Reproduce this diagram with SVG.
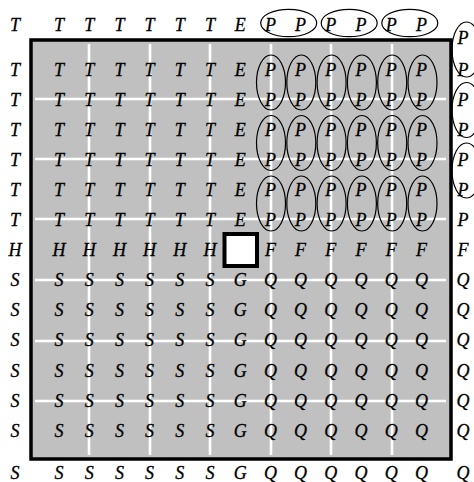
<svg xmlns="http://www.w3.org/2000/svg" width="474" height="482" viewBox="0 0 474 482">
<style>
text{font-family:"Liberation Serif","Times New Roman",serif;font-style:italic;font-size:18px;text-anchor:middle;fill:#000;stroke:#000;stroke-width:0.3}
.grid{stroke:#fff;stroke-width:2.6;fill:none}
.ov{fill:none;stroke:#000;stroke-width:1.2}
</style>
<rect x="31" y="40" width="420" height="419" fill="#c0c0c0" stroke="#000" stroke-width="3.5"/>
<g id="grid" class="grid">
<path d="M35 99H446M35 159H446M35 219H446M35 280H446M35 341H446M35 401H446"/>
<path d="M89 44V455M150 44V455M210 44V455M271 44V455M331 44V455M392 44V455"/>
</g>
<rect id="blank" x="224.5" y="234" width="32.5" height="32" fill="#fff" stroke="#000" stroke-width="4"/>
<g id="top-row">
<text x="15" y="31">T</text><text x="59" y="31">T</text><text x="89.2" y="31">T</text><text x="119.4" y="31">T</text><text x="149.6" y="31">T</text><text x="179.8" y="31">T</text><text x="210" y="31">T</text><text x="240.2" y="31">E</text><text x="270.4" y="31">P</text><text x="300.6" y="31">P</text><text x="330.8" y="31">P</text><text x="361" y="31">P</text><text x="391.2" y="31">P</text><text x="421.4" y="31">P</text>
</g>
<g id="rows-T">
<text x="15" y="75.5">T</text><text x="59" y="75.5">T</text><text x="89.2" y="75.5">T</text><text x="119.4" y="75.5">T</text><text x="149.6" y="75.5">T</text><text x="179.8" y="75.5">T</text><text x="210" y="75.5">T</text><text x="240.2" y="75.5">E</text><text x="270.4" y="75.5">P</text><text x="300.6" y="75.5">P</text><text x="330.8" y="75.5">P</text><text x="361" y="75.5">P</text><text x="391.2" y="75.5">P</text><text x="421.4" y="75.5">P</text>
<text x="15" y="105.6">T</text><text x="59" y="105.6">T</text><text x="89.2" y="105.6">T</text><text x="119.4" y="105.6">T</text><text x="149.6" y="105.6">T</text><text x="179.8" y="105.6">T</text><text x="210" y="105.6">T</text><text x="240.2" y="105.6">E</text><text x="270.4" y="105.6">P</text><text x="300.6" y="105.6">P</text><text x="330.8" y="105.6">P</text><text x="361" y="105.6">P</text><text x="391.2" y="105.6">P</text><text x="421.4" y="105.6">P</text>
<text x="15" y="135.7">T</text><text x="59" y="135.7">T</text><text x="89.2" y="135.7">T</text><text x="119.4" y="135.7">T</text><text x="149.6" y="135.7">T</text><text x="179.8" y="135.7">T</text><text x="210" y="135.7">T</text><text x="240.2" y="135.7">E</text><text x="270.4" y="135.7">P</text><text x="300.6" y="135.7">P</text><text x="330.8" y="135.7">P</text><text x="361" y="135.7">P</text><text x="391.2" y="135.7">P</text><text x="421.4" y="135.7">P</text>
<text x="15" y="165.8">T</text><text x="59" y="165.8">T</text><text x="89.2" y="165.8">T</text><text x="119.4" y="165.8">T</text><text x="149.6" y="165.8">T</text><text x="179.8" y="165.8">T</text><text x="210" y="165.8">T</text><text x="240.2" y="165.8">E</text><text x="270.4" y="165.8">P</text><text x="300.6" y="165.8">P</text><text x="330.8" y="165.8">P</text><text x="361" y="165.8">P</text><text x="391.2" y="165.8">P</text><text x="421.4" y="165.8">P</text>
<text x="15" y="195.9">T</text><text x="59" y="195.9">T</text><text x="89.2" y="195.9">T</text><text x="119.4" y="195.9">T</text><text x="149.6" y="195.9">T</text><text x="179.8" y="195.9">T</text><text x="210" y="195.9">T</text><text x="240.2" y="195.9">E</text><text x="270.4" y="195.9">P</text><text x="300.6" y="195.9">P</text><text x="330.8" y="195.9">P</text><text x="361" y="195.9">P</text><text x="391.2" y="195.9">P</text><text x="421.4" y="195.9">P</text>
<text x="15" y="226">T</text><text x="59" y="226">T</text><text x="89.2" y="226">T</text><text x="119.4" y="226">T</text><text x="149.6" y="226">T</text><text x="179.8" y="226">T</text><text x="210" y="226">T</text><text x="240.2" y="226">E</text><text x="270.4" y="226">P</text><text x="300.6" y="226">P</text><text x="330.8" y="226">P</text><text x="361" y="226">P</text><text x="391.2" y="226">P</text><text x="421.4" y="226">P</text>
</g>
<g id="row-H">
<text x="15" y="256.1">H</text><text x="59" y="256.1">H</text><text x="89.2" y="256.1">H</text><text x="119.4" y="256.1">H</text><text x="149.6" y="256.1">H</text><text x="179.8" y="256.1">H</text><text x="210" y="256.1">H</text><text x="270.4" y="256.1">F</text><text x="300.6" y="256.1">F</text><text x="330.8" y="256.1">F</text><text x="361" y="256.1">F</text><text x="391.2" y="256.1">F</text><text x="421.4" y="256.1">F</text>
</g>
<g id="rows-S">
<text x="15" y="286.2">S</text><text x="59" y="286.2">S</text><text x="89.2" y="286.2">S</text><text x="119.4" y="286.2">S</text><text x="149.6" y="286.2">S</text><text x="179.8" y="286.2">S</text><text x="210" y="286.2">S</text><text x="240.2" y="286.2">G</text><text x="270.4" y="286.2">Q</text><text x="300.6" y="286.2">Q</text><text x="330.8" y="286.2">Q</text><text x="361" y="286.2">Q</text><text x="391.2" y="286.2">Q</text><text x="421.4" y="286.2">Q</text>
<text x="15" y="316.3">S</text><text x="59" y="316.3">S</text><text x="89.2" y="316.3">S</text><text x="119.4" y="316.3">S</text><text x="149.6" y="316.3">S</text><text x="179.8" y="316.3">S</text><text x="210" y="316.3">S</text><text x="240.2" y="316.3">G</text><text x="270.4" y="316.3">Q</text><text x="300.6" y="316.3">Q</text><text x="330.8" y="316.3">Q</text><text x="361" y="316.3">Q</text><text x="391.2" y="316.3">Q</text><text x="421.4" y="316.3">Q</text>
<text x="15" y="346.4">S</text><text x="59" y="346.4">S</text><text x="89.2" y="346.4">S</text><text x="119.4" y="346.4">S</text><text x="149.6" y="346.4">S</text><text x="179.8" y="346.4">S</text><text x="210" y="346.4">S</text><text x="240.2" y="346.4">G</text><text x="270.4" y="346.4">Q</text><text x="300.6" y="346.4">Q</text><text x="330.8" y="346.4">Q</text><text x="361" y="346.4">Q</text><text x="391.2" y="346.4">Q</text><text x="421.4" y="346.4">Q</text>
<text x="15" y="376.5">S</text><text x="59" y="376.5">S</text><text x="89.2" y="376.5">S</text><text x="119.4" y="376.5">S</text><text x="149.6" y="376.5">S</text><text x="179.8" y="376.5">S</text><text x="210" y="376.5">S</text><text x="240.2" y="376.5">G</text><text x="270.4" y="376.5">Q</text><text x="300.6" y="376.5">Q</text><text x="330.8" y="376.5">Q</text><text x="361" y="376.5">Q</text><text x="391.2" y="376.5">Q</text><text x="421.4" y="376.5">Q</text>
<text x="15" y="406.6">S</text><text x="59" y="406.6">S</text><text x="89.2" y="406.6">S</text><text x="119.4" y="406.6">S</text><text x="149.6" y="406.6">S</text><text x="179.8" y="406.6">S</text><text x="210" y="406.6">S</text><text x="240.2" y="406.6">G</text><text x="270.4" y="406.6">Q</text><text x="300.6" y="406.6">Q</text><text x="330.8" y="406.6">Q</text><text x="361" y="406.6">Q</text><text x="391.2" y="406.6">Q</text><text x="421.4" y="406.6">Q</text>
<text x="15" y="436.7">S</text><text x="59" y="436.7">S</text><text x="89.2" y="436.7">S</text><text x="119.4" y="436.7">S</text><text x="149.6" y="436.7">S</text><text x="179.8" y="436.7">S</text><text x="210" y="436.7">S</text><text x="240.2" y="436.7">G</text><text x="270.4" y="436.7">Q</text><text x="300.6" y="436.7">Q</text><text x="330.8" y="436.7">Q</text><text x="361" y="436.7">Q</text><text x="391.2" y="436.7">Q</text><text x="421.4" y="436.7">Q</text>
</g>
<g id="bottom-row">
<text x="15" y="479">S</text><text x="59" y="479">S</text><text x="89.2" y="479">S</text><text x="119.4" y="479">S</text><text x="149.6" y="479">S</text><text x="179.8" y="479">S</text><text x="210" y="479">S</text><text x="240.2" y="479">G</text><text x="270.4" y="479">Q</text><text x="300.6" y="479">Q</text><text x="330.8" y="479">Q</text><text x="361" y="479">Q</text><text x="391.2" y="479">Q</text><text x="421.4" y="479">Q</text><text x="463" y="479">Q</text>
</g>
<g id="right-col">
<text x="463" y="44">P</text><text x="463" y="75.5">P</text><text x="463" y="105.6">P</text><text x="463" y="135.7">P</text><text x="463" y="165.8">P</text><text x="463" y="195.9">P</text><text x="463" y="226">P</text><text x="463" y="256.1">F</text><text x="463" y="286.2">Q</text><text x="463" y="316.3">Q</text><text x="463" y="346.4">Q</text><text x="463" y="376.5">Q</text><text x="463" y="406.6">Q</text><text x="463" y="436.7">Q</text>
</g>
<g id="ovals" class="ov">
<ellipse cx="288.7" cy="23" rx="28" ry="13.7"/><ellipse cx="349.2" cy="23" rx="28" ry="13.7"/><ellipse cx="409.8" cy="23" rx="28" ry="13.7"/>
<ellipse cx="466.5" cy="49.5" rx="14.5" ry="27.5"/><ellipse cx="466.5" cy="110" rx="14.5" ry="27.5"/><ellipse cx="466.5" cy="170.5" rx="14.5" ry="27.5"/>
<ellipse cx="271" cy="82.5" rx="14.5" ry="27.5"/><ellipse cx="301.3" cy="82.5" rx="14.5" ry="27.5"/><ellipse cx="331.6" cy="82.5" rx="14.5" ry="27.5"/><ellipse cx="361.9" cy="82.5" rx="14.5" ry="27.5"/><ellipse cx="392.2" cy="82.5" rx="14.5" ry="27.5"/><ellipse cx="422.5" cy="82.5" rx="14.5" ry="27.5"/>
<ellipse cx="271" cy="143" rx="14.5" ry="27.5"/><ellipse cx="301.3" cy="143" rx="14.5" ry="27.5"/><ellipse cx="331.6" cy="143" rx="14.5" ry="27.5"/><ellipse cx="361.9" cy="143" rx="14.5" ry="27.5"/><ellipse cx="392.2" cy="143" rx="14.5" ry="27.5"/><ellipse cx="422.5" cy="143" rx="14.5" ry="27.5"/>
<ellipse cx="271" cy="203.5" rx="14.5" ry="27.5"/><ellipse cx="301.3" cy="203.5" rx="14.5" ry="27.5"/><ellipse cx="331.6" cy="203.5" rx="14.5" ry="27.5"/><ellipse cx="361.9" cy="203.5" rx="14.5" ry="27.5"/><ellipse cx="392.2" cy="203.5" rx="14.5" ry="27.5"/><ellipse cx="422.5" cy="203.5" rx="14.5" ry="27.5"/>
</g>
</svg>
